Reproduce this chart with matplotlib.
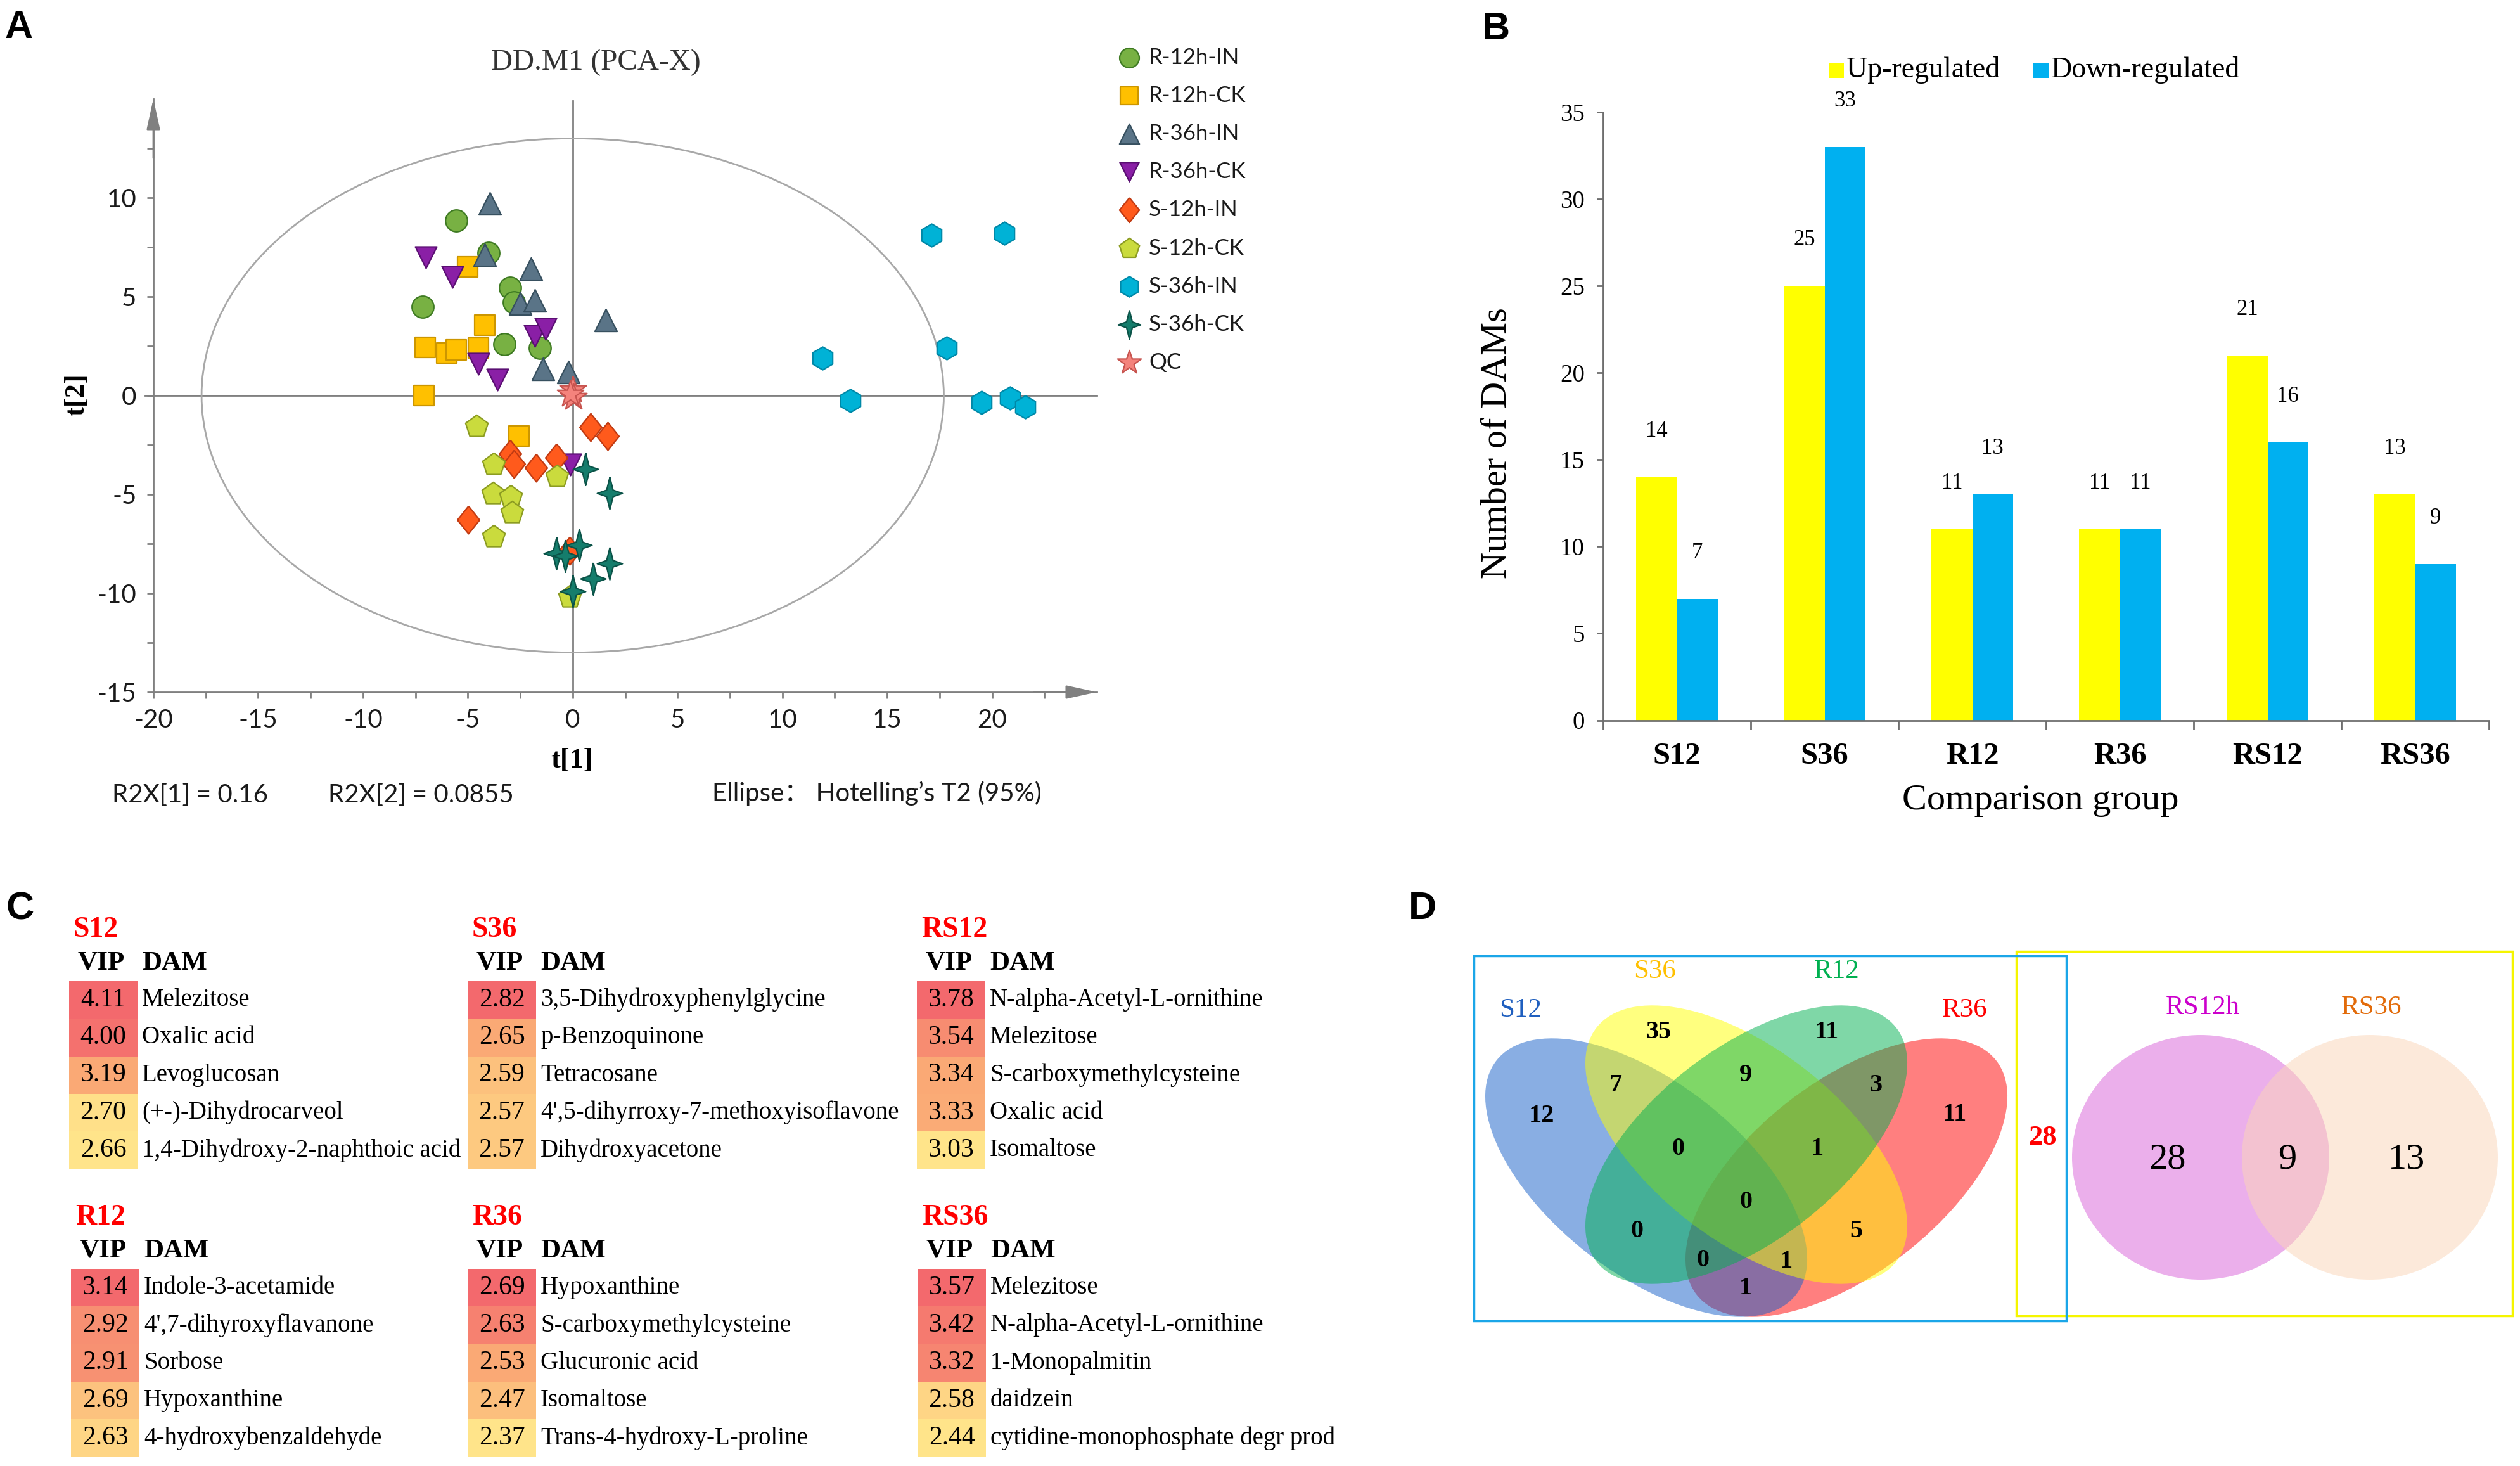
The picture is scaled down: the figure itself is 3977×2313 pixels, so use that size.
import matplotlib
matplotlib.use("Agg")
import matplotlib.pyplot as plt
import numpy as np
from matplotlib.colors import LinearSegmentedColormap
from matplotlib.patches import Ellipse, Rectangle
from matplotlib.path import Path

W, H = 3977, 2313
SERIF = "Liberation Serif"
SANS = "Lato"
AX_GRAY = "#808080"

plt.rcParams["font.family"] = [SANS, "DejaVu Sans"]
plt.rcParams["axes.unicode_minus"] = False

# ---------------- panel A: PCA scores ----------------
pca_groups = ["R-12h-IN", "R-12h-CK", "R-36h-IN", "R-36h-CK", "S-12h-IN",
              "S-12h-CK", "S-36h-IN", "S-36h-CK", "QC"]
t1_r12_in = [-5.55, -4.0, -7.15, -3.0, -2.8, -3.25, -1.55]
t2_r12_in = [8.85, 7.2, 4.5, 5.45, 4.7, 2.6, 2.4]
t1_r12_ck = [-5.0, -4.2, -7.05, -6.0, -5.55, -4.5, -7.1, -2.55]
t2_r12_ck = [6.5, 3.55, 2.45, 2.15, 2.3, 2.4, 0.0, -2.05]
t1_r36_in = [-3.95, -4.2, -2.0, -2.5, -1.8, 1.57, -1.4, -0.2]
t2_r36_in = [9.7, 7.1, 6.4, 4.65, 4.8, 3.8, 1.35, 1.2]
t1_r36_ck = [-7.0, -5.75, -1.8, -1.3, -4.5, -3.6, -0.1]
t2_r36_ck = [7.0, 6.0, 3.0, 3.35, 1.6, 0.8, -3.5]
t1_s12_in = [0.85, 1.66, -3.0, -2.8, -1.75, -0.77, -4.97, -0.15]
t2_s12_in = [-1.6, -2.05, -2.95, -3.45, -3.65, -3.15, -6.27, -7.85]
t1_s12_ck = [-4.58, -3.78, -0.74, -3.8, -2.95, -2.88, -3.78, -0.15]
t2_s12_ck = [-1.58, -3.5, -4.1, -4.97, -5.13, -5.93, -7.15, -10.2]
t1_s36_in = [17.1, 20.6, 11.9, 17.85, 13.25, 19.5, 20.85, 21.6]
t2_s36_in = [8.1, 8.2, 1.9, 2.4, -0.25, -0.35, -0.12, -0.58]
t1_s36_ck = [0.6, 1.76, 0.32, -0.78, -0.36, 1.76, 0.96, 0.0]
t2_s36_ck = [-3.73, -4.92, -7.55, -7.98, -8.1, -8.5, -9.26, -9.9]
t1_qc = [0.0, 0.05, -0.1]
t2_qc = [0.3, -0.1, 0.05]

pca_t1 = [t1_r12_in, t1_r12_ck, t1_r36_in, t1_r36_ck, t1_s12_in,
          t1_s12_ck, t1_s36_in, t1_s36_ck, t1_qc]
pca_t2 = [t2_r12_in, t2_r12_ck, t2_r36_in, t2_r36_ck, t2_s12_in,
          t2_s12_ck, t2_s36_in, t2_s36_ck, t2_qc]

# ---------------- panel B: number of DAMs ----------------
comparisons = ["S12", "S36", "R12", "R36", "RS12", "RS36"]
up_regulated = [14, 25, 11, 11, 21, 13]
down_regulated = [7, 33, 13, 11, 16, 9]

# ---------------- panel C: top VIP tables ----------------
vip_s12 = [4.11, 4.00, 3.19, 2.70, 2.66]
dam_s12 = ["Melezitose", "Oxalic acid", "Levoglucosan", "(+-)-Dihydrocarveol",
           "1,4-Dihydroxy-2-naphthoic acid"]
vip_s36 = [2.82, 2.65, 2.59, 2.57, 2.57]
dam_s36 = ["3,5-Dihydroxyphenylglycine", "p-Benzoquinone", "Tetracosane",
           "4',5-dihyrroxy-7-methoxyisoflavone", "Dihydroxyacetone"]
vip_rs12 = [3.78, 3.54, 3.34, 3.33, 3.03]
dam_rs12 = ["N-alpha-Acetyl-L-ornithine", "Melezitose", "S-carboxymethylcysteine",
            "Oxalic acid", "Isomaltose"]
vip_r12 = [3.14, 2.92, 2.91, 2.69, 2.63]
dam_r12 = ["Indole-3-acetamide", "4',7-dihyroxyflavanone", "Sorbose",
           "Hypoxanthine", "4-hydroxybenzaldehyde"]
vip_r36 = [2.69, 2.63, 2.53, 2.47, 2.37]
dam_r36 = ["Hypoxanthine", "S-carboxymethylcysteine", "Glucuronic acid",
           "Isomaltose", "Trans-4-hydroxy-L-proline"]
vip_rs36 = [3.57, 3.42, 3.32, 2.58, 2.44]
dam_rs36 = ["Melezitose", "N-alpha-Acetyl-L-ornithine", "1-Monopalmitin",
            "daidzein", "cytidine-monophosphate degr prod"]
# colour-scale anchors (low, mid, high) of each VIP column
scale_s12 = (2.66, 3.19, 4.11)
scale_s36 = (2.50, 2.65, 2.82)
scale_rs12 = (3.03, 3.34, 3.78)
scale_r12 = (2.58, 2.77, 3.14)
scale_r36 = (2.37, 2.53, 2.69)
scale_rs36 = (2.44, 3.00, 3.57)

# ---------------- panel D: Venn counts ----------------
venn4_sets = ["S12", "S36", "R12", "R36"]
# region order: S12, S36, R12, R36, S12&S36, S36&R12, R12&R36, S12&S36&R12,
# S36&R12&R36, all, S12&R12, S36&R36, S12&R12&R36, S12&S36&R36, S12&R36
venn4_counts = [12, 35, 11, 11, 7, 9, 3, 0, 1, 0, 0, 5, 0, 1, 1]
venn4_outside = 28
venn2_sets = ["RS12h", "RS36"]
venn2_counts = [28, 9, 13]


def px_box(left, top, right, bottom):
    return [left / W, 1 - bottom / H, (right - left) / W, (bottom - top) / H]


fig = plt.figure(figsize=(W / 100, H / 100), dpi=100)
ov = fig.add_axes([0, 0, 1, 1])
ov.set_xlim(0, W)
ov.set_ylim(H, 0)
ov.axis("off")

for letter, (lx, ly) in zip("ABCD", [(30, 45), (2361, 46), (32, 1435), (2245, 1435)]):
    ov.text(lx, ly, letter, family="Liberation Sans", weight="bold", size=44,
            ha="center", va="center")

# ================= A =================
diamond = Path([(0, 1), (0.8, 0), (0, -1), (-0.8, 0), (0, 1)])
star4 = Path([(0, 1), (0.2, 0.2), (0.78, 0), (0.2, -0.2), (0, -1),
              (-0.2, -0.2), (-0.78, 0), (-0.2, 0.2), (0, 1)])
pca_markers = ["o", "s", "^", "v", diamond, "p", "h", star4, "*"]
pca_sizes = [620, 520, 640, 600, 1000, 720, 680, 1350, 1000]
pca_fill = ["#78B143", "#FFC000", "#5A7487", "#8A1FA6", "#FF5A1C",
            "#CADB3D", "#00B2D6", "#157D6C", "#F4837C"]
pca_edge = ["#3E7A22", "#CC9600", "#37505F", "#5A0F72", "#C03A12",
            "#8C9C22", "#0089A8", "#0B5348", "#C7544F"]

axA = fig.add_axes(px_box(242, 156, 1731, 1092))
axA.set_xlim(-20, 25)
axA.set_ylim(-15, 15)
axA.patch.set_alpha(0)
for s in ["top", "right"]:
    axA.spines[s].set_visible(False)
for s in ["left", "bottom"]:
    axA.spines[s].set_color(AX_GRAY)
    axA.spines[s].set_linewidth(2)
axA.set_xticks(np.arange(-20, 21, 5))
axA.set_xticks(np.arange(-17.5, 23, 5), minor=True)
axA.set_yticks(np.arange(-15, 11, 5))
axA.set_yticks(np.arange(-12.5, 13, 5), minor=True)
axA.tick_params(which="both", direction="out", color=AX_GRAY, width=2, length=7,
                labelsize=29, labelcolor="#1A1A1A")
axA.tick_params(axis="x", pad=12)
axA.tick_params(axis="y", pad=12)

axA.plot([-20.4, 25], [0, 0], color=AX_GRAY, lw=2, clip_on=False, zorder=1)
axA.plot([0, 0], [-15, 14.9], color=AX_GRAY, lw=2, clip_on=False, zorder=1)
axA.add_patch(Ellipse((0, 0), 35.4, 26, fill=False, ec="#A8A8A8", lw=2, zorder=1))
arrow = dict(arrowstyle="-|>,head_length=1.0,head_width=0.22", color=AX_GRAY,
             lw=2, mutation_scale=30, shrinkA=0, shrinkB=0)
axA.annotate("", xy=(25, -15), xytext=(22, -15), arrowprops=arrow, annotation_clip=False)
axA.annotate("", xy=(-20, 15), xytext=(-20, 12), arrowprops=arrow, annotation_clip=False)

for i, grp in enumerate(pca_groups):
    axA.scatter(pca_t1[i], pca_t2[i], marker=pca_markers[i], s=pca_sizes[i],
                c=pca_fill[i], edgecolors=pca_edge[i], linewidths=1.6, zorder=3 + i * 0.01,
                clip_on=False)

ov.text(940, 99, "DD.M1 (PCA-X)", family=SERIF, size=34, color="#333333",
        ha="center", va="center")
ov.text(903, 1200, "t[1]", family=SERIF, weight="bold", size=32, ha="center", va="center")
ov.text(121, 623, "t[2]", family=SERIF, weight="bold", size=32, rotation=90,
        ha="center", va="center")
ov.text(300, 1254, "R2X[1] = 0.16", size=29, ha="center", va="center", color="#1A1A1A")
ov.text(664, 1254, "R2X[2] = 0.0855", size=29, ha="center", va="center", color="#1A1A1A")
ov.text(1384, 1252, "Ellipse\uff1a Hotelling\u2019s T2 (95%)", size=29, ha="center",
        va="center", color="#1A1A1A", family=[SANS, "Noto Sans CJK SC"])

# legend of A
for i, grp in enumerate(pca_groups):
    ly = 91 + 60.1 * i
    ov.scatter([1782], [ly], marker=pca_markers[i], s=pca_sizes[i] * 0.8, c=pca_fill[i],
               edgecolors=pca_edge[i], linewidths=1.6)
    ov.text(1813, ly, grp, size=25, va="center", ha="left", color="#1A1A1A")

# ================= B =================
axB = fig.add_axes(px_box(2530, 177, 3928, 1136.5))
xpos = np.arange(len(comparisons))
bw = 0.275
axB.bar(xpos - bw / 2, up_regulated, width=bw, color="#FFFF00", zorder=2)
axB.bar(xpos + bw / 2, down_regulated, width=bw, color="#00B0F0", zorder=2)
for xi, u, d in zip(xpos, up_regulated, down_regulated):
    axB.annotate(str(u), (xi - bw / 2, u), xytext=(0, 52), textcoords="offset points",
                 ha="center", va="center", family=SERIF, size=25)
    axB.annotate(str(d), (xi + bw / 2, d), xytext=(0, 52), textcoords="offset points",
                 ha="center", va="center", family=SERIF, size=25)
axB.set_xlim(-0.5, len(comparisons) - 0.5)
axB.set_ylim(0, 35)
for s in ["top", "right"]:
    axB.spines[s].set_visible(False)
for s in ["left", "bottom"]:
    axB.spines[s].set_color("#6E6E6E")
    axB.spines[s].set_linewidth(2)
axB.set_xticks(xpos)
axB.set_xticklabels(comparisons, family=SERIF, weight="bold", size=35)
axB.set_xticks(np.arange(-0.5, len(comparisons), 1), minor=True)
axB.tick_params(axis="x", which="major", length=0, pad=25)
axB.tick_params(axis="x", which="minor", length=10, width=2, color="#6E6E6E")
axB.set_yticks(np.arange(0, 36, 5))
axB.tick_params(axis="y", length=7, width=2, color="#6E6E6E", pad=14)
for lab in axB.get_yticklabels():
    lab.set_family(SERIF)
    lab.set_size(28)
ov.text(2362, 699, "Number of DAMs", family=SERIF, size=42, rotation=90,
        ha="center", va="center")
ov.text(3220, 1263, "Comparison group", family=SERIF, size=42, ha="center", va="center")
ov.add_patch(Rectangle((2886, 99), 24, 24, color="#FFFF00", lw=0))
ov.text(2914, 110, "Up-regulated", family=SERIF, size=33, va="center")
ov.add_patch(Rectangle((3209, 99), 24, 24, color="#00B0F0", lw=0))
ov.text(3237, 110, "Down-regulated", family=SERIF, size=33, va="center")

# ================= C =================
vip_cmap = LinearSegmentedColormap.from_list("vip", ["#FFE48A", "#FAA975", "#F3696D"])
CELL_W, ROW_H = 108, 59.3


def vip_colour(v, scale):
    lo, mid, hi = scale
    if v <= mid:
        frac = 0.5 * (v - lo) / (mid - lo)
    else:
        frac = 0.5 + 0.5 * (v - mid) / (hi - mid)
    return vip_cmap(float(np.clip(frac, 0, 1)))


def draw_vip_table(x_cell, y_title, name, vips, dams, scale):
    ov.text(x_cell + 7, y_title, name, color="#FF0000", family=SERIF, weight="bold",
            size=33, va="center", ha="left")
    ov.text(x_cell + CELL_W / 2 - 3, y_title + 53, "VIP", family=SERIF, weight="bold",
            size=31, va="center", ha="center")
    ov.text(x_cell + CELL_W + 7, y_title + 53, "DAM", family=SERIF, weight="bold",
            size=31, va="center", ha="left")
    for i, (v, d) in enumerate(zip(vips, dams)):
        top = y_title + 81 + i * ROW_H
        ov.add_patch(Rectangle((x_cell, top), CELL_W, ROW_H, color=vip_colour(v, scale), lw=0))
        ov.text(x_cell + CELL_W / 2, top + ROW_H / 2, f"{v:.2f}", family=SERIF, size=30,
                ha="center", va="center")
        ov.text(x_cell + CELL_W + 7, top + ROW_H / 2, d, family=SERIF, size=28,
                ha="left", va="center")


draw_vip_table(109, 1467, "S12", vip_s12, dam_s12, scale_s12)
draw_vip_table(738, 1467, "S36", vip_s36, dam_s36, scale_s36)
draw_vip_table(1447, 1467, "RS12", vip_rs12, dam_rs12, scale_rs12)
draw_vip_table(112, 1921, "R12", vip_r12, dam_r12, scale_r12)
draw_vip_table(738, 1921, "R36", vip_r36, dam_r36, scale_r36)
draw_vip_table(1448, 1921, "RS36", vip_rs36, dam_rs36, scale_rs36)

# ================= D =================
ov.add_patch(Rectangle((3182, 1501), 783, 575, fill=False, ec="#F5F500", lw=2.5))
ov.add_patch(Rectangle((2326, 1508), 935, 576, fill=False, ec="#1BA6E8", lw=2.5))

venn4_fill = {"S12": "#145FC8", "S36": "#FFFF00", "R12": "#00B050", "R36": "#FF0000"}
venn4_label_col = {"S12": "#1F5FBF", "S36": "#FFC000", "R12": "#00B050", "R36": "#FF0000"}
venn4_geom = {"S12": ((2598, 1858), 38), "S36": ((2756, 1806), 38),
              "R12": ((2756, 1806), -38), "R36": ((2914, 1858), -38)}
for key in ["R36", "S12", "S36", "R12"]:
    (cx, cy), ang = venn4_geom[key]
    ov.add_patch(Ellipse((cx, cy), 600, 302, angle=ang, color=venn4_fill[key],
                         alpha=0.5, lw=0))
venn4_label_xy = [(2400, 1594), (2611, 1533), (2899, 1533), (3101, 1594)]
for key, (lx, ly) in zip(venn4_sets, venn4_label_xy):
    ov.text(lx, ly, key, color=venn4_label_col[key], family=SERIF, size=31,
            ha="center", va="center")
venn4_region_xy = [(2433, 1760), (2617, 1628), (2883, 1628), (3085, 1758),
                   (2550, 1712), (2755, 1697), (2960, 1712), (2648, 1812),
                   (2868, 1812), (2755, 1896), (2583, 1942), (2929, 1942),
                   (2687, 1988), (2819, 1990), (2755, 2032)]
for n, (rx, ry) in zip(venn4_counts, venn4_region_xy):
    ov.text(rx, ry, str(n), family=SERIF, weight="bold", size=29, ha="center", va="center")
ov.text(3223, 1795, str(venn4_outside), color="#FF0000", family=SERIF, weight="bold",
        size=32, ha="center", va="center")

ov.add_patch(Ellipse((3473, 1826), 406, 386, color="#D961D9", alpha=0.5, lw=0))
ov.add_patch(Ellipse((3740, 1826), 404, 386, color="#FBD5B7", alpha=0.5, lw=0))
ov.text(3476, 1590, venn2_sets[0], color="#CC00CC", family=SERIF, size=31,
        ha="center", va="center")
ov.text(3742, 1590, venn2_sets[1], color="#E26B0A", family=SERIF, size=31,
        ha="center", va="center")
for n, rx in zip(venn2_counts, [3421, 3610, 3798]):
    ov.text(rx, 1829, str(n), family=SERIF, size=42, ha="center", va="center")

fig.savefig("out.png", dpi=100)
